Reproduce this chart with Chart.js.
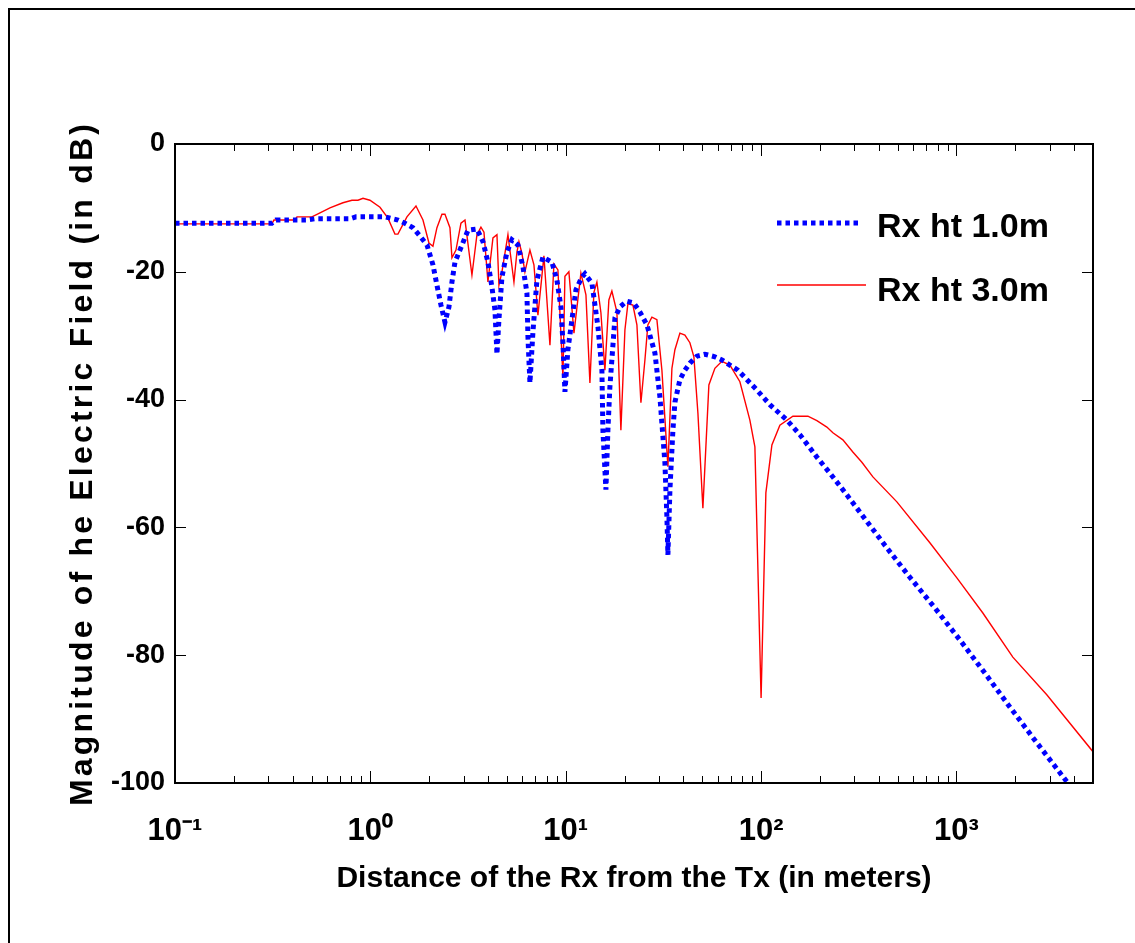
<!DOCTYPE html>
<html><head><meta charset="utf-8">
<script src="https://cdn.jsdelivr.net/npm/chart.js@4.4.1/dist/chart.umd.min.js"></script>
<style>html,body{margin:0;padding:0;background:#fff;}#wrap{width:1135px;height:943px;position:relative;overflow:hidden}</style>
</head><body><div id="wrap"><canvas id="c" width="1135" height="943"></canvas></div>
<script>
// ---- data (distance in metres, field in dB) ----
const distance1 = [0.1, 0.313, 0.329, 0.468, 0.521, 0.786, 0.844, 1.188, 1.384, 1.503, 1.652, 1.794, 1.949, 2.091, 2.192, 2.298, 2.409, 2.525, 2.616, 2.71, 2.874, 3.159, 3.512, 3.771, 3.998, 4.191, 4.343, 4.446, 4.551, 4.716, 5.002, 5.306, 5.692, 6.039, 6.33, 6.406, 6.558, 6.795, 7.122, 7.644, 8.502, 9.016, 9.45, 9.676, 9.906, 10.26, 10.76, 11.28, 12.11, 12.54, 13.62, 14.62, 15.32, 15.5, 16.06, 16.44, 16.83, 17.86, 18.94, 20.57, 22.34, 23.98, 26.04, 28.61, 30.35, 32.19, 32.96, 33.35, 34.15, 35.37, 36.22, 38.41, 40.74, 43.21, 46.93, 51.58, 58.01, 63.01, 76.08, 95.16, 110.9, 135.5, 158, 193, 225, 262.2, 320.3, 430.1, 577.3, 775.2, 1041, 1398, 1876, 2520, 3673, 5000];
const field1 = [-12.4, -12.4, -11.9, -11.9, -11.7, -11.7, -11.4, -11.4, -11.9, -12.4, -13.1, -14.4, -15.8, -18.9, -22.1, -25.2, -27.9, -25.5, -21.6, -18.5, -16.6, -13.5, -13.3, -15.3, -18.5, -22.4, -26.0, -32.9, -27.5, -20.8, -16.9, -15.0, -15.8, -19.2, -23.3, -30.2, -37.4, -29.4, -21.3, -17.7, -18.5, -21.3, -25.5, -31.1, -38.8, -32.2, -27.5, -22.8, -20.8, -20.3, -21.8, -28.6, -35.4, -44.8, -54.1, -44.8, -38.0, -27.2, -25.5, -24.6, -24.9, -26.3, -28.3, -32.7, -39.6, -49.9, -58.4, -64.3, -54.1, -44.8, -40.4, -36.9, -35.4, -34.3, -33.2, -32.9, -33.3, -33.8, -35.4, -38.5, -40.8, -43.2, -45.5, -49.0, -51.5, -54.1, -57.6, -62.8, -67.8, -72.6, -77.6, -82.8, -88.1, -93.3, -99.8, -105.2];

const distance3 = [0.1, 0.313, 0.321, 0.411, 0.421, 0.502, 0.533, 0.621, 0.724, 0.805, 0.864, 0.917, 0.995, 1.12, 1.23, 1.336, 1.384, 1.539, 1.712, 1.859, 1.995, 2.091, 2.192, 2.325, 2.409, 2.555, 2.616, 2.743, 2.909, 3.05, 3.311, 3.512, 3.681, 3.815, 3.998, 4.241, 4.446, 4.551, 4.716, 5.061, 5.432, 5.627, 5.761, 5.967, 6.182, 6.558, 6.875, 7.206, 7.734, 8.303, 8.702, 9.123, 9.676, 9.906, 10.38, 11.02, 11.96, 12.69, 13.3, 13.94, 14.44, 15.14, 15.87, 16.63, 17.23, 18.28, 19.16, 20.09, 20.81, 22.08, 23.14, 24.26, 25.43, 26.33, 27.61, 29.29, 31.07, 33.35, 34.96, 36.22, 38.41, 40.74, 43.21, 45.3, 47.49, 50.36, 54.05, 58.01, 63.01, 69.23, 77.9, 87.62, 92.96, 100, 105.8, 113.6, 124.8, 145.5, 173.6, 193, 217.1, 233.1, 262.2, 294.9, 328, 373.6, 495.5, 730.9, 1005, 1365, 1944, 2900, 5000];
const field3 = [-12.5, -12.5, -11.9, -11.9, -11.4, -11.4, -11.0, -10.0, -9.2, -8.8, -8.8, -8.5, -8.8, -9.9, -11.6, -14.1, -14.1, -11.4, -9.7, -11.9, -15.5, -16.0, -13.1, -11.0, -11.0, -13.1, -17.8, -16.6, -12.4, -11.9, -20.5, -14.2, -13.0, -13.8, -21.6, -14.7, -14.2, -22.1, -20.0, -14.2, -21.6, -16.9, -15.3, -17.1, -20.0, -16.6, -18.9, -26.8, -17.5, -31.5, -18.8, -19.7, -36.5, -20.7, -20.0, -29.6, -20.2, -23.6, -37.4, -23.2, -21.6, -26.4, -35.4, -24.4, -23.0, -26.3, -44.8, -29.1, -25.0, -25.2, -28.3, -40.5, -33.8, -28.3, -27.1, -27.5, -35.4, -50.5, -35.1, -32.2, -29.6, -29.9, -31.1, -33.3, -42.1, -57.0, -37.7, -35.1, -34.0, -34.6, -37.2, -43.2, -47.4, -86.7, -54.6, -47.1, -44.0, -42.6, -42.6, -43.3, -44.3, -45.2, -46.3, -48.2, -49.8, -52.1, -56.0, -62.4, -67.9, -73.4, -80.3, -86.2, -95.1];

const seriesLabels = ['Rx ht 1.0m', 'Rx ht 3.0m'];
const xTickValues = [0.1, 1, 10, 100, 1000];
const xTickLabels = ['10\u207B\u00B9', '10\u2070', '10\u00B9', '10\u00B2', '10\u00B3'];
const yTickValues = [-100, -80, -60, -40, -20, 0];
const yTickLabels = ['-100', '-80', '-60', '-40', '-20', '0'];
const xTitle = 'Distance of the Rx from the Tx (in meters)';
const yTitle = 'Magnitude of he Electric Field (in dB)';
const xRange = [0.1, 5000];
const yRange = [-100, 0];

const FONT = "'Liberation Sans', Arial, Helvetica, sans-serif";

const decorPlugin = {
  id: 'decor',
  afterDraw(chart) {
    const {ctx, chartArea: a, scales: {x, y}} = chart;
    ctx.save();
    // outer figure frame
    ctx.fillStyle = '#000';
    ctx.fillRect(8, 8, 2, 2000);
    ctx.fillRect(8, 8, 2000, 2);
    // inward ticks
    ctx.strokeStyle = '#000';
    ctx.lineWidth = 1;
    ctx.beginPath();
    for (const d of xTickValues) {
      for (let m = 1; m <= 9; m++) {
        const v = m * d;
        if (v > xRange[1] + 1e-9) break;
        const px = Math.round(x.getPixelForValue(v)) + 0.5;
        const len = m === 1 ? 12 : 7;
        ctx.moveTo(px, a.bottom); ctx.lineTo(px, a.bottom - len);
        ctx.moveTo(px, a.top); ctx.lineTo(px, a.top + len);
      }
    }
    for (const v of yTickValues) {
      const py = Math.round(y.getPixelForValue(v)) + 0.5;
      ctx.moveTo(a.left, py); ctx.lineTo(a.left + 11, py);
      ctx.moveTo(a.right, py); ctx.lineTo(a.right - 11, py);
    }
    ctx.stroke();
    // axes box
    ctx.lineWidth = 2;
    ctx.strokeRect(a.left, a.top, a.right - a.left, a.bottom - a.top);
    // legend
    const lx0 = a.right - 316, lx1 = a.right - 231, tx = a.right - 216;
    const rows = [{ly: a.top + 79, ty: a.top + 84}, {ly: a.top + 141, ty: a.top + 148}];
    chart.data.datasets.forEach((ds, i) => {
      const r = rows[i];
      ctx.beginPath();
      ctx.strokeStyle = ds.borderColor;
      ctx.lineWidth = ds.borderWidth;
      ctx.setLineDash(ds.borderDash || []);
      ctx.lineCap = 'butt';
      ctx.moveTo(lx0, r.ly); ctx.lineTo(lx1 + (i === 1 ? 4 : 0), r.ly);
      ctx.stroke();
      ctx.setLineDash([]);
      ctx.fillStyle = '#000';
      ctx.font = 'bold 34px ' + FONT;
      ctx.textBaseline = 'middle';
      ctx.textAlign = 'left';
      ctx.fillText(ds.label, tx, r.ty);
    });
    ctx.restore();
  }
};

// spaced-out lettering for the y axis title, as in the reference
function spaceTitle(scale) {
  if (scale._spacedTitle) return;
  scale._spacedTitle = true;
  const orig = scale.drawTitle;
  scale.drawTitle = function () {
    const ctx = this.ctx;
    ctx.save();
    try { ctx.letterSpacing = '3.2px'; } catch (e) {}
    orig.call(this);
    ctx.restore();
  };
}

const ds1 = distance1.map((d, i) => ({x: d, y: field1[i]}));
const ds3 = distance3.map((d, i) => ({x: d, y: field3[i]}));

new Chart(document.getElementById('c'), {
  type: 'line',
  data: {
    datasets: [
      {label: seriesLabels[0], data: ds1, borderColor: '#0000ff', borderWidth: 5, borderDash: [4.5, 4], borderCapStyle: 'butt', pointRadius: 0, tension: 0, fill: false, clip: 0},
      {label: seriesLabels[1], data: ds3, borderColor: '#ff0000', borderWidth: 1.4, pointRadius: 0, tension: 0, fill: false, clip: 0}
    ]
  },
  options: {
    responsive: false,
    devicePixelRatio: 1,
    animation: false,
    layout: {padding: {top: 144, right: 42, left: 59, bottom: 46}},
    plugins: {legend: {display: false}, tooltip: {enabled: false}},
    scales: {
      x: {
        type: 'logarithmic', position: 'bottom', min: xRange[0], max: xRange[1],
        grid: {display: false, drawTicks: false}, border: {display: false},
        afterBuildTicks: (s) => { s.ticks = xTickValues.map(v => ({value: v})); },
        afterFit: (s) => { s.height = 943 - 46 - 783; },
        ticks: {autoSkip: false, maxRotation: 0, padding: 30, color: '#000',
          font: {family: FONT, size: 31, weight: 'bold'},
          callback: (v, i) => xTickLabels[i]},
        title: {display: true, text: xTitle, color: '#000', padding: 0,
          font: {family: FONT, size: 30, weight: 'bold'}}
      },
      y: {
        type: 'linear', position: 'left', min: yRange[0], max: yRange[1],
        grid: {display: false, drawTicks: false}, border: {display: false},
        afterBuildTicks: (s) => { s.ticks = yTickValues.map(v => ({value: v})); },
        afterFit: (s) => { s.width = 175 - 59; spaceTitle(s); },
        ticks: {padding: 10, color: '#000', font: {family: FONT, size: 27, weight: 'bold'},
          callback: (v, i) => yTickLabels[i]},
        title: {display: true, text: yTitle, color: '#000', padding: {top: 5, bottom: 0},
          font: {family: FONT, size: 32, weight: 'bold'}}
      }
    }
  },
  plugins: [decorPlugin]
});
</script></body></html>
